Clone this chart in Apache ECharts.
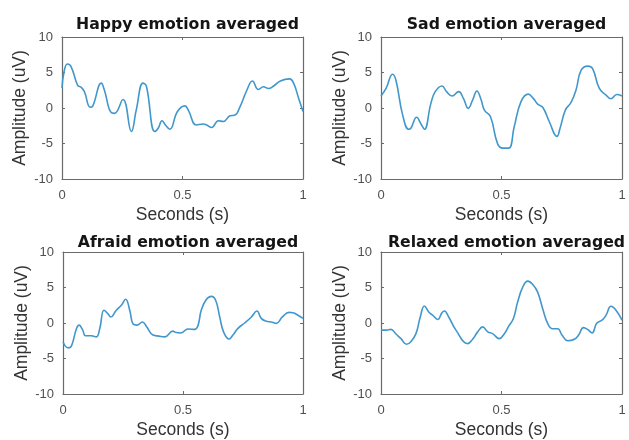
<!DOCTYPE html>
<html>
<head>
<meta charset="utf-8">
<script src="https://cdn.jsdelivr.net/npm/echarts@6/dist/echarts.min.js"></script>
<style>
  html, body { margin: 0; padding: 0; background: #ffffff; }
  #chart { width: 629px; height: 440px; }
</style>
</head>
<body>
<div id="chart"></div>
<script>
// Averaged EEG amplitude per emotion, sampled over one second
const panelTitles = ['Happy emotion averaged', 'Sad emotion averaged', 'Afraid emotion averaged', 'Relaxed emotion averaged'];
const xTickValues = [0, 0.5, 1];
const yTickValues = [-10, -5, 0, 5, 10];
const xAxisTitle = 'Seconds (s)';
const yAxisTitle = 'Amplitude (uV)';

const happyTime = [0, 0.008, 0.022, 0.038, 0.065, 0.08, 0.093, 0.117, 0.128, 0.163, 0.176, 0.204, 0.218, 0.253, 0.288, 0.308, 0.336, 0.35, 0.385, 0.399, 0.415, 0.429, 0.447, 0.479, 0.51, 0.524, 0.558, 0.586, 0.6, 0.621, 0.649, 0.669, 0.697, 0.718, 0.739, 0.767, 0.79, 0.815, 0.836, 0.857, 0.878, 0.906, 0.944, 0.961, 0.982, 1.0];
const happyAmp = [2.8, 5.0, 6.2, 5.8, 3.2, 2.9, 2.3, 0.1, 0.3, 3.5, 2.5, -0.65, -0.75, 1.2, -3.3, -0.3, 3.5, 3.1, -3.3, -2.85, -1.8, -2.4, -3.0, -0.5, 0.3, -0.3, -2.4, -2.25, -2.4, -2.75, -1.8, -1.9, -1.1, -1.0, 0.2, 2.5, 3.8, 2.6, 3.0, 2.75, 3.1, 3.8, 4.1, 3.5, 1.35, -0.5];

const sadTime = [0, 0.021, 0.048, 0.062, 0.09, 0.115, 0.124, 0.148, 0.166, 0.18, 0.207, 0.225, 0.253, 0.272, 0.295, 0.322, 0.342, 0.362, 0.38, 0.398, 0.415, 0.429, 0.454, 0.484, 0.505, 0.53, 0.553, 0.581, 0.611, 0.632, 0.65, 0.671, 0.698, 0.73, 0.743, 0.765, 0.788, 0.809, 0.83, 0.858, 0.878, 0.906, 0.934, 0.954, 0.978, 1.0];
const sadAmp = [1.7, 2.75, 4.75, 3.9, -1.0, -3.0, -2.85, -1.3, -2.25, -3.0, 0.65, 2.3, 3.1, 2.3, 1.7, 2.3, 1.35, -0.05, 1.1, 2.4, 1.2, -0.3, -1.2, -5.05, -5.65, -5.65, -2.6, 0.9, 1.95, 1.35, 0.55, 0.1, -1.9, -4.0, -2.85, -0.3, 0.75, 2.5, 5.3, 5.9, 5.55, 2.75, 1.8, 1.3, 1.9, 1.7];

const afraidTime = [0, 0.021, 0.035, 0.056, 0.067, 0.081, 0.094, 0.118, 0.139, 0.153, 0.171, 0.188, 0.199, 0.222, 0.243, 0.261, 0.278, 0.292, 0.308, 0.331, 0.347, 0.375, 0.4, 0.424, 0.458, 0.472, 0.49, 0.521, 0.549, 0.563, 0.576, 0.597, 0.618, 0.636, 0.653, 0.669, 0.692, 0.708, 0.729, 0.757, 0.785, 0.808, 0.826, 0.847, 0.868, 0.889, 0.914, 0.942, 0.958, 0.979, 1.0];
const afraidAmp = [-2.65, -3.5, -3.25, -0.8, -0.3, -0.9, -1.8, -1.8, -1.95, -0.8, 1.8, 1.25, 0.85, 1.8, 2.5, 3.35, 1.8, -0.15, -0.3, 0.15, -0.45, -1.7, -1.85, -1.95, -1.15, -1.35, -1.4, -0.85, -0.9, -0.3, 1.8, 3.3, 3.75, 3.2, 0.85, -1.25, -2.25, -1.7, -0.75, 0.0, 0.85, 1.7, 0.65, 0.25, 0.15, -0.05, 0.85, 1.5, 1.45, 1.1, 0.65];

const relaxedTime = [0, 0.021, 0.041, 0.062, 0.083, 0.106, 0.124, 0.145, 0.163, 0.18, 0.198, 0.214, 0.235, 0.253, 0.263, 0.281, 0.311, 0.36, 0.38, 0.401, 0.422, 0.443, 0.463, 0.491, 0.512, 0.53, 0.549, 0.567, 0.588, 0.609, 0.629, 0.65, 0.671, 0.692, 0.712, 0.733, 0.751, 0.775, 0.802, 0.82, 0.84, 0.857, 0.876, 0.895, 0.917, 0.934, 0.954, 0.975, 1.0];
const relaxedAmp = [-1.0, -1.0, -0.9, -1.55, -2.2, -3.0, -2.65, -1.5, 0.85, 2.4, 1.55, 1.1, 0.5, 1.45, 1.7, 0.85, -1.0, -2.9, -2.3, -1.25, -0.55, -1.25, -1.5, -2.2, -1.5, -0.45, 0.6, 2.95, 5.05, 5.9, 5.45, 4.35, 2.0, -0.1, -0.8, -0.8, -1.7, -2.5, -2.3, -1.7, -0.65, -0.9, -1.4, -0.05, 0.4, 1.1, 2.35, 1.8, 0.4];

const panelSeries = [
  [happyTime, happyAmp],
  [sadTime, sadAmp],
  [afraidTime, afraidAmp],
  [relaxedTime, relaxedAmp]
];

// Plot box placement for the 2x2 layout
const boxes = [
  { left: 62,  top: 37,  width: 241, height: 142, yGap: 33, titleTop: 12 },
  { left: 381, top: 37,  width: 241, height: 142, yGap: 27, titleTop: 12 },
  { left: 63,  top: 252, width: 240, height: 142, yGap: 28, titleTop: 230 },
  { left: 381, top: 252, width: 241, height: 142, yGap: 29, titleTop: 230 }
];

const frameColor = '#6a6a6a';
const lineColor = '#4197cc';
const tickTextColor = '#505050';

const xStep = xTickValues[1] - xTickValues[0];
const yStep = yTickValues[1] - yTickValues[0];

const grid = [], xAxis = [], yAxis = [], series = [], title = [];

boxes.forEach((b, i) => {
  grid.push({ left: b.left, top: b.top, width: b.width, height: b.height, containLabel: false });

  title.push({
    text: panelTitles[i],
    left: b.left + b.width / 2,
    top: b.titleTop,
    textAlign: 'center',
    textStyle: { fontFamily: 'DejaVu Sans', fontWeight: 'bold', fontSize: 15.7, color: '#151515' }
  });

  const xBase = {
    type: 'value', gridIndex: i,
    min: xTickValues[0], max: xTickValues[xTickValues.length - 1], interval: xStep,
    splitLine: { show: false },
    axisLine: { show: true, onZero: false, lineStyle: { color: frameColor, width: 1.2 } },
    axisTick: { show: true, inside: true, length: 3, lineStyle: { color: frameColor } }
  };
  xAxis.push(Object.assign({}, xBase, {
    position: 'bottom',
    name: xAxisTitle, nameLocation: 'middle', nameGap: 27,
    nameTextStyle: { fontFamily: 'Liberation Sans', fontSize: 17.5, color: '#333333' },
    axisLabel: { margin: 10, fontFamily: 'Liberation Sans', fontSize: 13, color: tickTextColor }
  }));
  xAxis.push(Object.assign({}, xBase, { position: 'top', axisLabel: { show: false } }));

  const yBase = {
    type: 'value', gridIndex: i,
    min: yTickValues[0], max: yTickValues[yTickValues.length - 1], interval: yStep,
    splitLine: { show: false },
    axisLine: { show: true, onZero: false, lineStyle: { color: frameColor, width: 1.2 } },
    axisTick: { show: true, inside: true, length: 3, lineStyle: { color: frameColor } }
  };
  yAxis.push(Object.assign({}, yBase, {
    position: 'left',
    name: yAxisTitle, nameLocation: 'middle', nameGap: b.yGap,
    nameTextStyle: { fontFamily: 'Liberation Sans', fontSize: 17.5, color: '#333333' },
    axisLabel: { margin: 9, fontFamily: 'Liberation Sans', fontSize: 13, color: tickTextColor }
  }));
  yAxis.push(Object.assign({}, yBase, { position: 'right', axisLabel: { show: false } }));

  const [t, v] = panelSeries[i];
  series.push({
    type: 'line',
    xAxisIndex: i * 2,
    yAxisIndex: i * 2,
    data: t.map((s, k) => [s, v[k]]),
    smooth: 0.45,
    showSymbol: false,
    lineStyle: { color: lineColor, width: 1.6 },
    animation: false
  });
});

const chart = echarts.init(document.getElementById('chart'), null, { renderer: 'canvas' });
chart.setOption({
  backgroundColor: '#ffffff',
  animation: false,
  title, grid, xAxis, yAxis, series
});
</script>
</body>
</html>
